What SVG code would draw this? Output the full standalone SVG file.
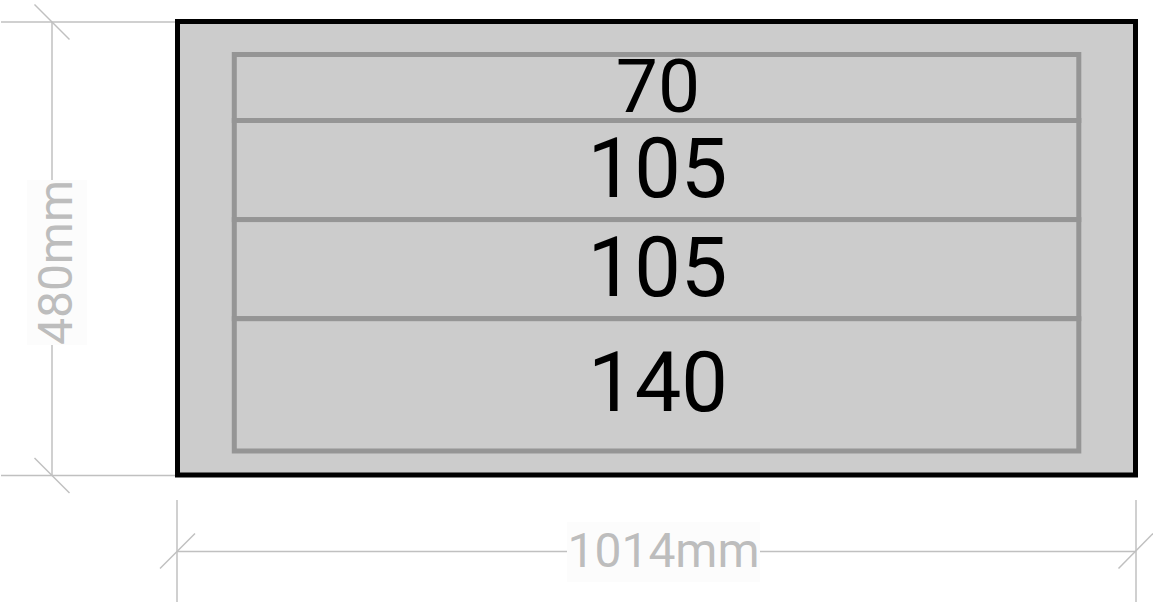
<svg xmlns="http://www.w3.org/2000/svg" width="1153" height="603" viewBox="0 0 1153 603">
<style>
.dim{stroke:#c0c0c0;stroke-width:1.5;fill:none}
.dimtxt{font-family:Roboto,"Liberation Sans",sans-serif;font-size:48px;fill:#bdbdbd;text-anchor:middle}
.dimbg{fill:#fcfcfc}
.sec{fill:#cccccc;stroke:#959595;stroke-width:5}
.lbl{font-family:Roboto,"Liberation Sans",sans-serif;fill:#000;text-anchor:middle}
</style>
<rect width="1153" height="603" fill="#ffffff"/>
<g id="connectors">
<line class="dim" x1="1" y1="22" x2="176" y2="22"/>
<line class="dim" x1="1" y1="475.5" x2="176" y2="475.5"/>
<line class="dim" x1="52" y1="22" x2="52" y2="475.5"/>
<line class="dim" x1="34.5" y1="4.5" x2="69.5" y2="39.5"/>
<line class="dim" x1="34.5" y1="458" x2="69.5" y2="493"/>
<line class="dim" x1="177" y1="500" x2="177" y2="602"/>
<line class="dim" x1="1136" y1="500" x2="1136" y2="602"/>
<line class="dim" x1="177" y1="551.5" x2="1136" y2="551.5"/>
<line class="dim" x1="160" y1="568.5" x2="195" y2="533.5"/>
<line class="dim" x1="1118.5" y1="568.5" x2="1153" y2="533.5"/>
</g>
<g id="dim-height">
<rect class="dimbg" x="27" y="180" width="60" height="165"/>
<text class="dimtxt" transform="translate(71.5,262.5) rotate(-90)">480mm</text>
</g>
<g id="dim-width">
<rect class="dimbg" x="567" y="522" width="193" height="60"/>
<text class="dimtxt" x="663.5" y="567">1014mm</text>
</g>
<g id="frame">
<rect x="177.5" y="21.5" width="958" height="453.5" fill="#cccccc" stroke="#000" stroke-width="5"/>
</g>
<g id="section-70">
<rect class="sec" x="234.3" y="54.5" width="844.5" height="66"/>
<text class="lbl" x="658" y="111.5" font-size="75">70</text>
</g>
<g id="section-105a">
<rect class="sec" x="234.3" y="120.5" width="844.5" height="99.1"/>
<text class="lbl" x="657.5" y="196.5" font-size="83">105</text>
</g>
<g id="section-105b">
<rect class="sec" x="234.3" y="219.6" width="844.5" height="99.1"/>
<text class="lbl" x="657.5" y="295.5" font-size="83">105</text>
</g>
<g id="section-140">
<rect class="sec" x="234.3" y="318.7" width="844.5" height="132.3"/>
<text class="lbl" x="658" y="411" font-size="83">140</text>
</g>
</svg>
